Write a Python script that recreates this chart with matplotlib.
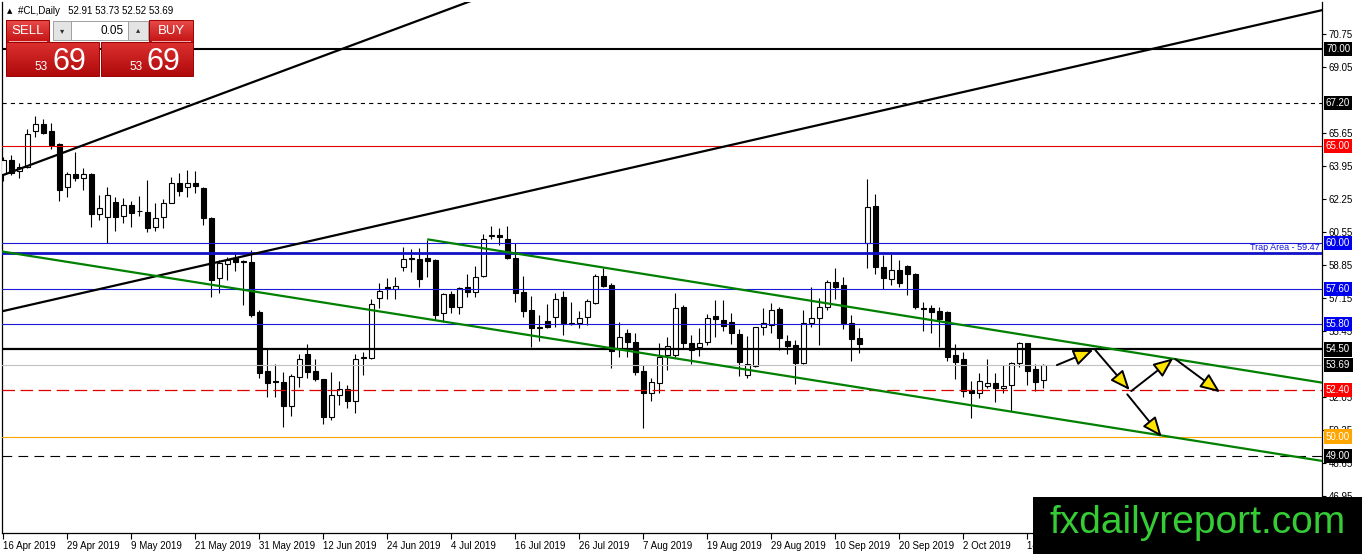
import matplotlib
matplotlib.use('Agg')
import matplotlib.pyplot as plt
import matplotlib.transforms as mtrans
from matplotlib.patches import Rectangle
import numpy as np

plt.rcParams['font.family'] = ['Liberation Sans', 'DejaVu Sans']
plt.rcParams['lines.scale_dashes'] = False

W, H, DPI = 1362, 554, 100

# ---------------- data (daily OHLC, #CL) ----------------
opens = [63.55, 64.27, 63.72, 63.93, 65.77, 66.13, 65.77, 65.10, 62.86, 63.55,
         63.33, 63.55, 61.49, 61.35, 62.09, 61.38, 61.93, 61.66, 61.57, 60.80,
         61.32, 62.04, 63.07, 62.86, 63.10, 62.81, 61.26, 58.17, 58.91, 59.20,
         59.05, 59.03, 56.44, 53.40, 52.86, 52.80, 51.59, 53.07, 54.25, 53.38,
         52.96, 51.00, 52.15, 52.44, 51.85, 54.05, 54.04, 57.17, 57.70, 57.62,
         58.77, 59.18, 59.15, 59.20, 59.11, 56.39, 57.36, 56.67, 57.70, 57.48,
         58.29, 60.35, 60.40, 60.18, 59.20, 57.48, 56.53, 55.62, 55.98, 56.16,
         57.19, 55.83, 55.85, 56.16, 56.91, 58.29, 57.82, 54.50, 55.36, 54.90,
         53.38, 52.27, 52.78, 54.21, 54.21, 56.67, 54.82, 54.64, 54.90, 56.22,
         56.02, 55.93, 55.29, 53.18, 53.64, 55.64, 55.76, 56.57, 54.95, 54.73,
         53.81, 55.88, 56.11, 56.70, 57.96, 57.82, 55.85, 55.07, 59.97, 61.90,
         58.74, 58.12, 58.60, 58.80, 58.39, 56.64, 56.65, 56.48, 56.44, 54.21,
         53.99, 52.40, 52.23, 52.63, 52.75, 52.49, 52.66, 53.81, 54.82, 53.47,
         52.91]
highs = [64.45, 64.53, 64.10, 65.86, 66.54, 66.37, 66.20, 65.15, 63.67, 64.70,
         63.84, 63.62, 62.47, 62.86, 62.35, 62.30, 62.17, 62.41, 63.24, 62.04,
         62.24, 63.38, 63.59, 63.76, 63.72, 62.89, 61.32, 59.11, 59.28, 59.49,
         59.10, 59.63, 56.53, 54.55, 53.75, 53.31, 53.24, 54.25, 54.78, 53.99,
         52.96, 53.35, 52.88, 52.66, 54.25, 54.38, 57.10, 57.94, 58.19, 58.25,
         59.80, 59.66, 59.72, 60.14, 59.15, 57.39, 57.53, 57.74, 58.39, 58.80,
         60.45, 60.87, 60.75, 60.87, 59.97, 58.29, 57.26, 56.27, 56.84, 57.39,
         57.53, 56.96, 56.48, 57.08, 58.39, 58.68, 57.91, 55.93, 55.54, 55.33,
         53.69, 53.01, 54.85, 55.15, 57.39, 56.79, 55.24, 55.59, 56.33, 57.05,
         57.05, 56.39, 55.54, 55.19, 55.67, 56.62, 56.88, 56.70, 55.24, 54.98,
         56.53, 57.70, 57.14, 58.08, 58.68, 58.25, 56.27, 55.59, 63.28, 62.52,
         59.37, 59.42, 59.11, 58.85, 58.43, 56.96, 56.79, 56.70, 56.50, 54.78,
         54.38, 52.88, 53.30, 53.99, 53.27, 53.69, 53.86, 54.90, 54.85, 53.75,
         53.73]
lows = [63.20, 63.50, 63.33, 63.85, 65.47, 65.60, 64.82, 62.17, 62.38, 63.20,
        62.72, 60.83, 61.18, 59.97, 60.62, 61.00, 60.83, 61.38, 60.58, 60.62,
        60.75, 62.04, 62.41, 62.38, 62.59, 60.92, 57.22, 57.43, 58.08, 58.56,
        56.80, 56.19, 53.00, 52.06, 52.06, 50.51, 51.07, 52.54, 53.00, 52.87,
        50.65, 50.86, 51.61, 51.50, 51.21, 53.18, 54.00, 56.62, 57.10, 57.10,
        58.56, 58.51, 57.74, 58.25, 56.00, 55.93, 56.39, 56.33, 57.22, 57.22,
        58.25, 60.18, 59.90, 59.15, 56.96, 56.19, 54.64, 54.92, 55.59, 55.67,
        55.24, 55.76, 55.62, 55.76, 56.84, 57.74, 53.53, 54.09, 54.12, 53.18,
        50.43, 51.85, 52.27, 53.44, 54.12, 54.50, 53.75, 54.16, 54.73, 55.15,
        55.46, 54.78, 53.13, 53.00, 53.61, 55.24, 55.36, 54.47, 54.26, 52.71,
        53.75, 55.67, 54.73, 56.53, 57.08, 55.54, 53.92, 54.33, 58.68, 58.39,
        57.60, 57.82, 57.74, 57.31, 56.57, 55.46, 55.33, 54.64, 53.92, 52.96,
        52.06, 50.94, 51.98, 52.49, 51.76, 52.27, 51.34, 53.58, 52.66, 52.37,
        52.52]
closes = [64.27, 63.60, 63.90, 65.61, 66.13, 65.68, 65.05, 62.72, 63.53, 63.36,
          63.55, 61.47, 61.80, 62.45, 61.35, 61.93, 61.55, 61.62, 60.75, 61.26,
          62.04, 63.07, 62.67, 63.07, 62.93, 61.26, 58.08, 58.97, 59.11, 58.99,
          59.02, 56.27, 53.27, 52.79, 52.80, 51.59, 53.13, 54.00, 53.35, 52.96,
          51.00, 52.15, 52.44, 51.85, 53.99, 54.10, 56.83, 57.51, 57.62, 57.77,
          59.15, 59.22, 58.12, 59.08, 56.27, 57.34, 56.71, 57.65, 57.48, 58.25,
          60.18, 60.39, 60.31, 59.20, 57.39, 56.50, 55.59, 55.66, 55.64, 57.08,
          55.85, 55.87, 56.11, 57.00, 58.29, 57.77, 54.43, 55.12, 54.90, 53.35,
          52.27, 52.83, 54.12, 54.67, 56.62, 54.85, 54.47, 54.82, 56.11, 56.08,
          55.72, 55.33, 53.86, 53.75, 55.64, 55.85, 56.53, 55.07, 54.67, 53.81,
          55.88, 56.11, 56.70, 57.96, 57.74, 55.88, 55.02, 54.76, 61.83, 58.74,
          58.17, 58.60, 57.94, 58.39, 56.67, 56.60, 56.44, 56.07, 54.12, 53.86,
          52.37, 52.23, 52.88, 52.75, 52.49, 52.61, 53.81, 54.82, 53.40, 52.83,
          53.69]

date_labels = ['16 Apr 2019', '29 Apr 2019', '9 May 2019', '21 May 2019', '31 May 2019',
               '12 Jun 2019', '24 Jun 2019', '4 Jul 2019', '16 Jul 2019', '26 Jul 2019',
               '7 Aug 2019', '19 Aug 2019', '29 Aug 2019', '10 Sep 2019', '20 Sep 2019',
               '2 Oct 2019', '14 Oct 2019']
date_tick_bars = [0, 8, 16, 24, 32, 40, 48, 56, 64, 72, 80, 88, 96, 104, 112, 120, 128]

# visible price-axis ticks (67.35 and 53.75 are hidden behind level labels)
price_ticks = [70.75, 69.05, 65.65, 63.95, 62.25, 60.55, 58.85, 57.15,
               55.45, 52.05, 50.35, 48.65, 46.95]

# horizontal levels
level_prices = [70.00, 67.20, 65.00, 60.00, 59.47, 57.60, 55.80, 54.50, 53.69, 52.40, 50.00, 49.00]
level_colors = ['black', 'black', '#e00000', '#1a1ad8', '#1010c8', '#1a1ad8', '#1a1ad8',
                'black', '#c0c0c0', '#e00000', '#ffa500', 'black']
level_widths = [1.5, 0.8, 0.8, 0.8, 2.0, 0.8, 0.8, 1.6, 0.8, 0.9, 0.8, 0.8]
level_dashes = [None, (3, 3), None, None, None, None, None, None, None, (9, 4), None, (7, 4.5)]
level_box = [True, True, True, True, False, True, True, True, True, True, True, True]
level_box_colors = ['black', 'black', '#ff0000', '#0000f0', None, '#0000f0', '#0000f0',
                    'black', 'black', '#ff0000', '#ffa500', 'black']

# trend lines (bar index, price) anchor pairs
black_up_pts = [(0.0, 63.50), (57.75, 72.37)]
black_long_pts = [(0.0, 56.48), (164.8, 72.00)]
green_low_pts = [(0.0, 59.54), (132.1, 50.89)]
green_up_pts = [(53.0, 60.18), (132.1, 54.95)]

# forecast arrows (start, end) in (bar, price)
arrow_starts = [(131.7, 53.69), (136.5, 54.47), (141.0, 52.35), (146.5, 54.00), (140.5, 52.18)]
arrow_ends = [(136.25, 54.47), (140.8, 52.40), (146.25, 54.04), (152.1, 52.29), (144.8, 49.99)]

# ---------------- figure ----------------
fig = plt.figure(figsize=(W / DPI, H / DPI), dpi=DPI)
fig.patch.set_facecolor('white')
ax = fig.add_axes([2 / W, (H - 533) / H, 1320 / W, 531 / H])
ax.set_facecolor('white')
ax.set_xlim(-0.16, 164.84)
ax.set_ylim(45.026, 72.425)

x = np.arange(len(opens))
o = np.array(opens); h = np.array(highs); l = np.array(lows); c = np.array(closes)
bull = c >= o

ax.vlines(x, l, h, color='black', lw=0.8, zorder=3)
bw = 0.6
ax.bar(x[bull], (c - o)[bull], bottom=o[bull], width=bw, color='white',
       edgecolor='black', linewidth=0.8, zorder=4)
ax.bar(x[~bull], (o - c)[~bull], bottom=c[~bull], width=bw, color='black',
       edgecolor='black', linewidth=0.8, zorder=4)

# horizontal levels
for p, col, lw, ds in zip(level_prices, level_colors, level_widths, level_dashes):
    ln = ax.axhline(p, color=col, lw=lw, zorder=5)
    if ds is not None:
        ln.set_dashes(ds)

# trend lines
def seg(pts, x0, x1):
    (xa, ya), (xb, yb) = pts
    s = (yb - ya) / (xb - xa)
    return [x0, x1], [ya + s * (x0 - xa), ya + s * (x1 - xa)]

for pts, x0, x1, col in [(black_up_pts, -1, 62, 'black'),
                         (black_long_pts, -1, 166, 'black'),
                         (green_low_pts, -1, 166, '#008000'),
                         (green_up_pts, 53.0, 166, '#008000')]:
    xs, ys = seg(pts, x0, x1)
    ax.plot(xs, ys, color=col, lw=1.6, zorder=6, solid_capstyle='butt')

# arrows
for (sx, sy), (ex, ey) in zip(arrow_starts, arrow_ends):
    ax.annotate('', xy=(ex, ey), xytext=(sx, sy),
                arrowprops=dict(arrowstyle='-|>,head_length=1.2,head_width=0.5',
                                fc='#ffe400', ec='black', lw=1.4,
                                shrinkA=0, shrinkB=0, mutation_scale=10),
                zorder=8)

# axes styling
ax.spines['top'].set_visible(False)
for side in ['left', 'right', 'bottom']:
    ax.spines[side].set_linewidth(0.9)
    ax.spines[side].set_color('black')

ax.yaxis.tick_right()
ax.set_yticks(price_ticks)
ax.set_yticklabels(['%.2f' % v for v in price_ticks])
ax.tick_params(axis='y', direction='out', length=3, width=0.8, pad=2, labelsize=7)
ax.set_xticks(date_tick_bars)
ax.set_xticklabels(date_labels)
ax.tick_params(axis='x', direction='out', length=4, width=0.8, pad=2, labelsize=7)
for t in ax.get_xticklabels():
    t.set_horizontalalignment('left')

# level labels on the price axis
btrans = mtrans.blended_transform_factory(ax.transAxes, ax.transData) + \
    mtrans.ScaledTranslation(4 / DPI, 0, fig.dpi_scale_trans)
for p, show, bc in zip(level_prices, level_box, level_box_colors):
    if show:
        ax.text(1.0, p, '%.2f' % p, transform=btrans, ha='left', va='center',
                fontsize=7, color='white', zorder=20, clip_on=False,
                bbox=dict(boxstyle='square,pad=0.22', fc=bc, ec='none'))

ttrans = mtrans.blended_transform_factory(ax.transAxes, ax.transData) + \
    mtrans.ScaledTranslation(-2 / DPI, 1.5 / DPI, fig.dpi_scale_trans)
ax.text(1.0, 59.47, 'Trap Area - 59.47', transform=ttrans, ha='right', va='bottom',
        fontsize=6.5, color='#1414e0', zorder=20)

# ---------------- overlay (header, trade panel, watermark) ----------------
ov = fig.add_axes([0, 0, 1, 1], zorder=30)
ov.set_facecolor('none')
ov.axis('off')

def grad_rect(x0, y0, x1, y1, ctop, cbot):
    ct = np.array(matplotlib.colors.to_rgb(ctop))
    cb = np.array(matplotlib.colors.to_rgb(cbot))
    t = np.linspace(0, 1, 32)[:, None, None]
    arr = ct[None, None, :] * (1 - t) + cb[None, None, :] * t
    ov.imshow(arr, extent=(x0, x1, y1, y0), aspect='auto', interpolation='bilinear', zorder=1)

ov.text(7, 11, '\u25b2', fontsize=5, va='center', ha='left', family=['DejaVu Sans'])
ov.text(18, 11, '#CL,Daily   52.91 53.73 52.52 53.69', fontsize=7, va='center', ha='left')

# buttons
grad_rect(6, 20, 49, 42, '#e84a4a', '#c41414')
grad_rect(149, 20, 193, 42, '#e84a4a', '#c41414')
grad_rect(6, 42, 99, 76, '#dc3030', '#b00a0a')
grad_rect(101, 42, 193, 76, '#dc3030', '#b00a0a')
for (x0, y0, x1, y1) in [(6, 20, 49, 42), (149, 20, 193, 42), (6, 42, 99, 76), (101, 42, 193, 76)]:
    ov.add_patch(Rectangle((x0, y0), x1 - x0, y1 - y0, fill=False, ec='#9a0000', lw=0.7, zorder=2))
ov.plot([9, 46], [41, 41], color='#f4b0b0', lw=0.7, zorder=3)
ov.plot([152, 190], [41, 41], color='#f4b0b0', lw=0.7, zorder=3)
# spin box
ov.add_patch(Rectangle((53, 21), 18, 19, fc='#e4e4e4', ec='#a0a0a0', lw=0.7, zorder=2))
ov.add_patch(Rectangle((71, 21), 57, 19, fc='white', ec='#a0a0a0', lw=0.7, zorder=2))
ov.add_patch(Rectangle((128, 21), 20, 19, fc='#e4e4e4', ec='#a0a0a0', lw=0.7, zorder=2))
ov.text(62, 30.5, '\u25be', fontsize=6, ha='center', va='center', color='#303030',
        family=['DejaVu Sans'], zorder=4)
ov.text(138, 30, '\u25b4', fontsize=6, ha='center', va='center', color='#303030',
        family=['DejaVu Sans'], zorder=4)
ov.text(124, 30.5, '0.05', fontsize=8.5, ha='right', va='center', color='black', zorder=4)
ov.text(27.5, 31, 'SELL', fontsize=9.5, ha='center', va='center', color='white', zorder=4)
ov.text(171, 31, 'BUY', fontsize=9.5, ha='center', va='center', color='white', zorder=4)
ov.text(48, 70, '53', fontsize=8.5, ha='right', va='baseline', color='white', zorder=4)
ov.text(52, 70, '69', fontsize=22, ha='left', va='baseline', color='white', zorder=4)
ov.text(143, 70, '53', fontsize=8.5, ha='right', va='baseline', color='white', zorder=4)
ov.text(147, 70, '69', fontsize=22, ha='left', va='baseline', color='white', zorder=4)

# watermark
ov.add_patch(Rectangle((1033, 497), W - 1033, H - 497, fc='black', ec='none', zorder=5))
ov.text(1049, 533, 'fxdailyreport.com', fontsize=28, ha='left', va='baseline',
        color='#35cc35', zorder=6)

ov.set_xlim(0, W)
ov.set_ylim(H, 0)

fig.savefig('out.png', dpi=DPI)
